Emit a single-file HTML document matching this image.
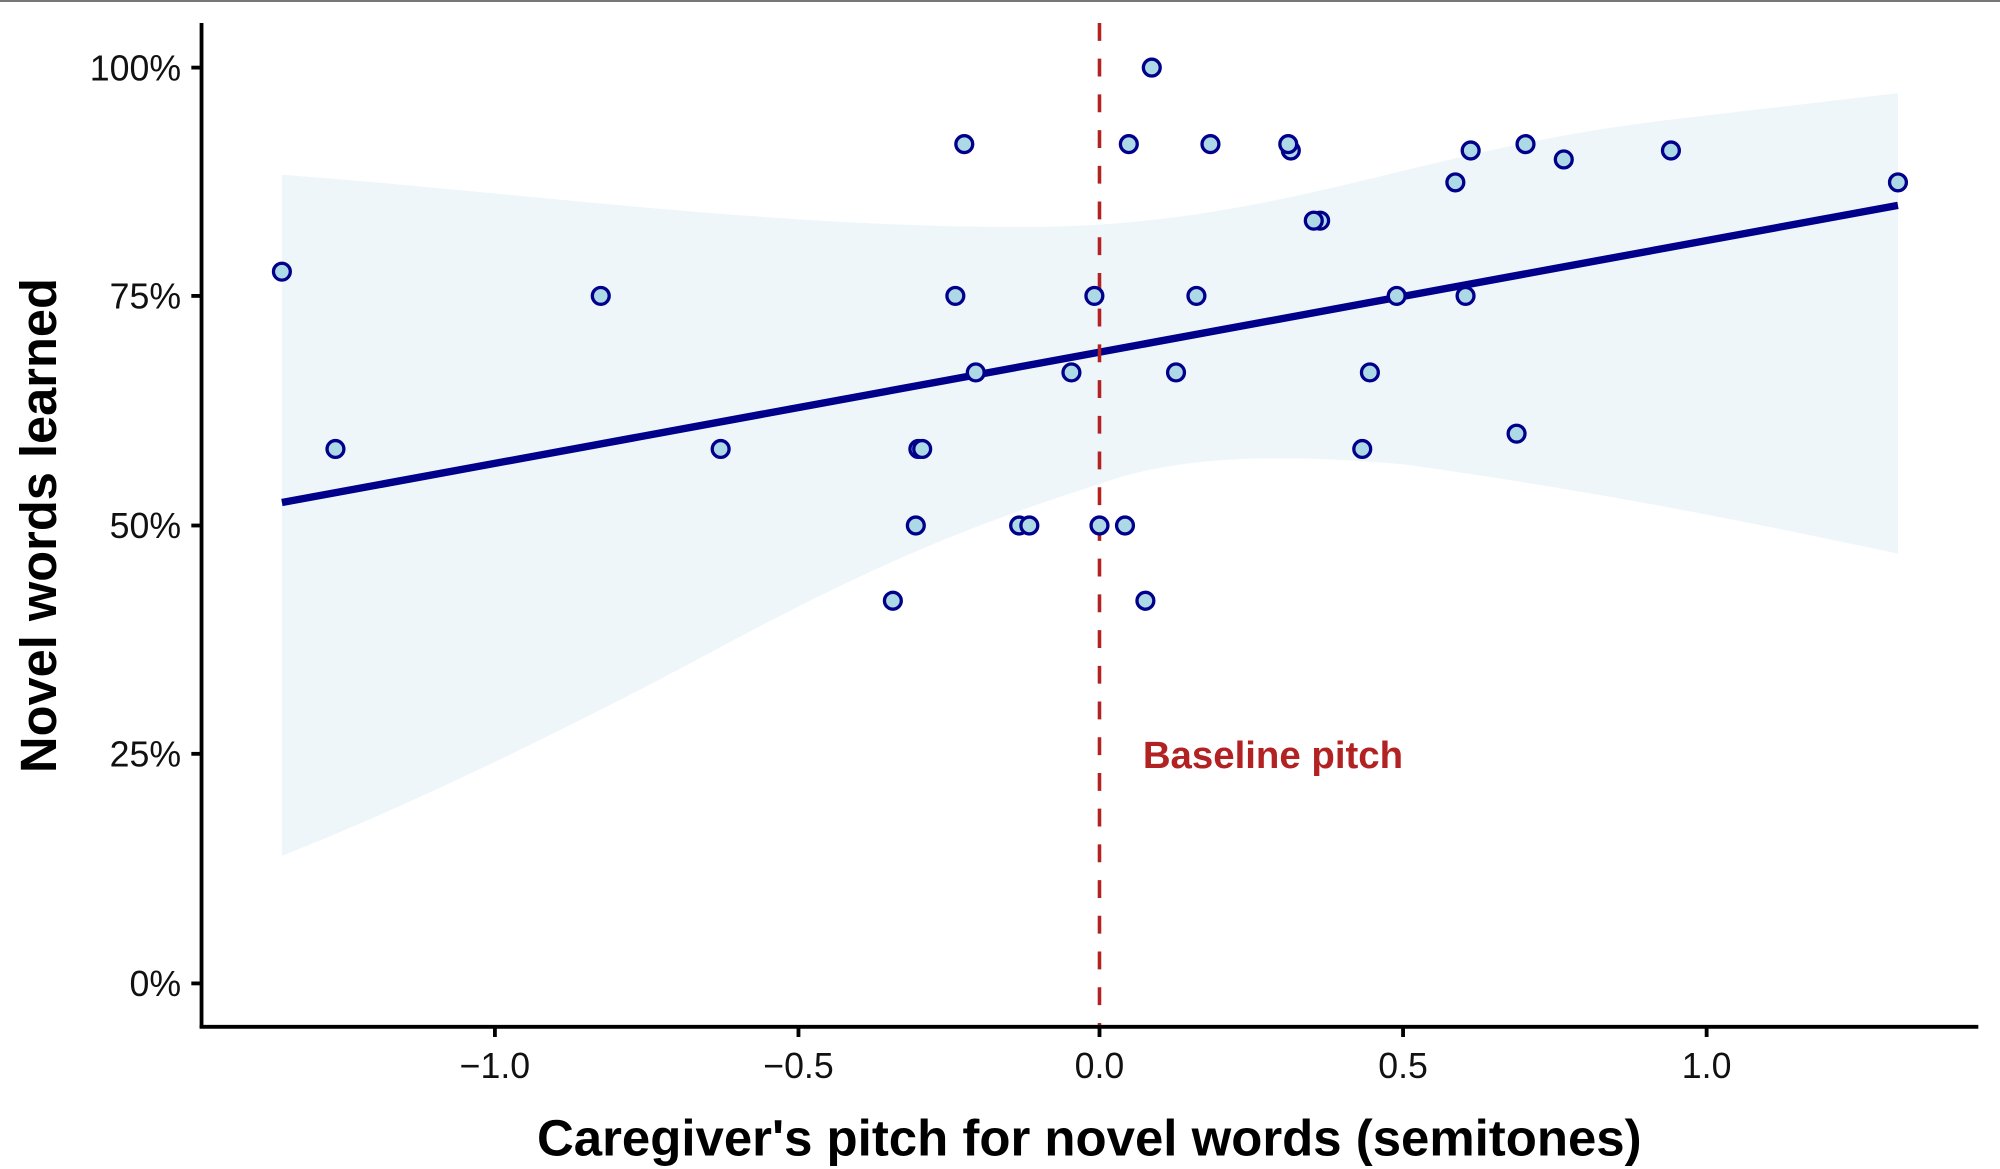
<!DOCTYPE html>
<html><head><meta charset="utf-8"><style>html,body{margin:0;padding:0;background:#fff}svg{display:block}</style></head>
<body>
<svg width="2000" height="1169" viewBox="0 0 1568 916.5" preserveAspectRatio="none" xmlns="http://www.w3.org/2000/svg" font-family="Liberation Sans, sans-serif">
<rect x="0" y="0" width="1568" height="916.5" fill="#fff"/>
<line x1="0" y1="0.8" x2="1568" y2="0.8" stroke="#777" stroke-width="1.6"/>
<path d="M221,137 C400,150 600,178 800,178 C1000,178 1100,120 1300,95 L1488,73 L1488,434 C1350,405 1250,385 1100,364 C1000,355 920,358 860,380 C760,412 680,445 560,510 C420,585 300,640 221,671 Z" fill="#eef6fa"/>
<line x1="221" y1="394" x2="1488" y2="161" stroke="#00008b" stroke-width="5.8"/>
<line x1="862" y1="18" x2="862" y2="805" stroke="#b22222" stroke-width="2.8" stroke-dasharray="14,14"/>
<g fill="#add8e6" stroke="#00008b" stroke-width="2.6">
<circle cx="221" cy="213" r="6.6"/><circle cx="263" cy="352" r="6.6"/><circle cx="471" cy="232" r="6.6"/><circle cx="565" cy="352" r="6.6"/><circle cx="700" cy="471" r="6.6"/><circle cx="718" cy="412" r="6.6"/><circle cx="720" cy="352" r="6.6"/><circle cx="723" cy="352" r="6.6"/><circle cx="749" cy="232" r="6.6"/><circle cx="756" cy="113" r="6.6"/><circle cx="765" cy="292" r="6.6"/><circle cx="799" cy="412" r="6.6"/><circle cx="807" cy="412" r="6.6"/><circle cx="840" cy="292" r="6.6"/><circle cx="858" cy="232" r="6.6"/><circle cx="862" cy="412" r="6.6"/><circle cx="882" cy="412" r="6.6"/><circle cx="885" cy="113" r="6.6"/><circle cx="898" cy="471" r="6.6"/><circle cx="903" cy="53" r="6.6"/><circle cx="922" cy="292" r="6.6"/><circle cx="938" cy="232" r="6.6"/><circle cx="949" cy="113" r="6.6"/><circle cx="1012" cy="118" r="6.6"/><circle cx="1010" cy="113" r="6.6"/><circle cx="1035" cy="173" r="6.6"/><circle cx="1030" cy="173" r="6.6"/><circle cx="1068" cy="352" r="6.6"/><circle cx="1074" cy="292" r="6.6"/><circle cx="1095" cy="232" r="6.6"/><circle cx="1141" cy="143" r="6.6"/><circle cx="1149" cy="232" r="6.6"/><circle cx="1153" cy="118" r="6.6"/><circle cx="1189" cy="340" r="6.6"/><circle cx="1196" cy="113" r="6.6"/><circle cx="1226" cy="125" r="6.6"/><circle cx="1310" cy="118" r="6.6"/><circle cx="1488" cy="143" r="6.6"/>
</g>
<text x="896" y="602" fill="#b22222" font-size="30" font-weight="bold" textLength="204" lengthAdjust="spacingAndGlyphs">Baseline pitch</text>
<g stroke="#000" stroke-width="3" fill="none">
<line x1="158" y1="18" x2="158" y2="806"/>
<line x1="156.5" y1="805" x2="1551" y2="805"/>
<line x1="150" y1="53" x2="158" y2="53"/><line x1="150" y1="232" x2="158" y2="232"/><line x1="150" y1="412" x2="158" y2="412"/><line x1="150" y1="591" x2="158" y2="591"/><line x1="150" y1="771" x2="158" y2="771"/>
<line x1="388" y1="805" x2="388" y2="813"/><line x1="626" y1="805" x2="626" y2="813"/><line x1="862" y1="805" x2="862" y2="813"/><line x1="1100" y1="805" x2="1100" y2="813"/><line x1="1338" y1="805" x2="1338" y2="813"/>
</g>
<g font-size="28" fill="#111" text-anchor="end">
<text x="142" y="63">100%</text><text x="142" y="242">75%</text><text x="142" y="422">50%</text><text x="142" y="601">25%</text><text x="142" y="781">0%</text>
</g>
<g font-size="28" fill="#111" text-anchor="middle">
<text x="388" y="845">−1.0</text><text x="626" y="845">−0.5</text><text x="862" y="845">0.0</text><text x="1100" y="845">0.5</text><text x="1338" y="845">1.0</text>
</g>
<text x="854" y="906" font-size="40" font-weight="bold" text-anchor="middle" fill="#000" textLength="866" lengthAdjust="spacingAndGlyphs">Caregiver's pitch for novel words (semitones)</text>
<text transform="translate(44,412) rotate(-90)" font-size="40" font-weight="bold" text-anchor="middle" fill="#000" textLength="388" lengthAdjust="spacingAndGlyphs">Novel words learned</text>
</svg>
</body></html>
